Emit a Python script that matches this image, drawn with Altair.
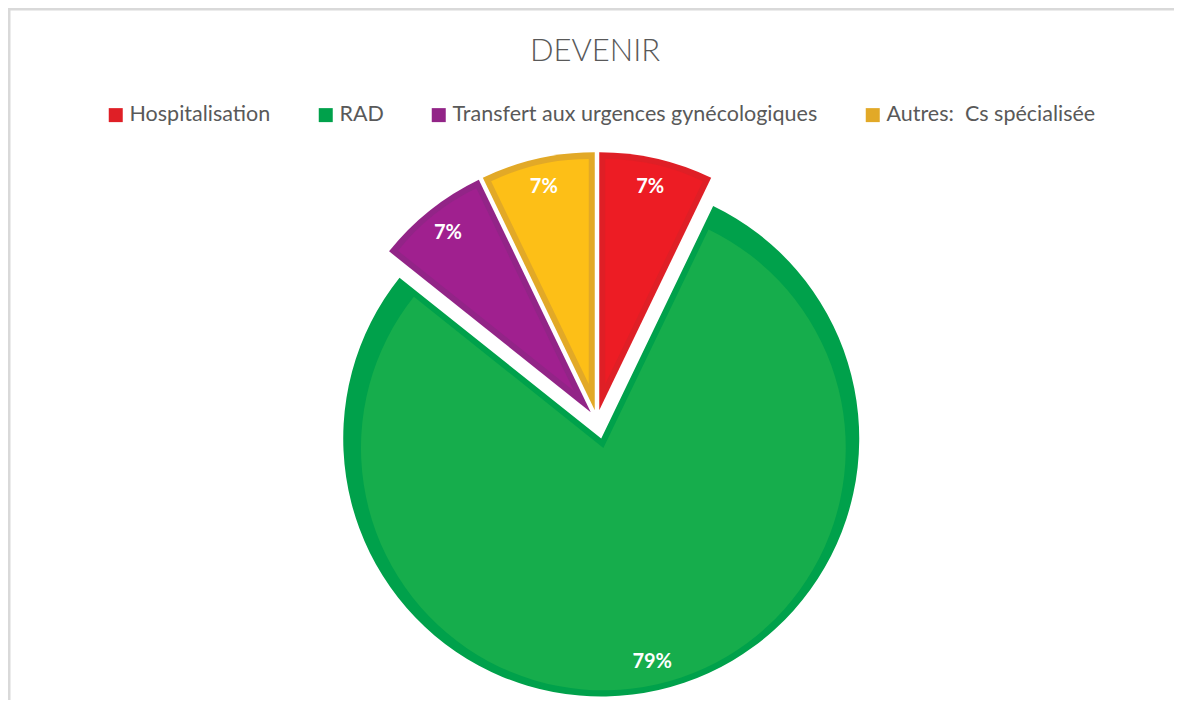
import altair as alt
import pandas as pd

categories = ["Hospitalisation", "RAD", "Transfert aux urgences gynécologiques", "Autres: \u00a0Cs spécialisée"]
counts = [1, 11, 1, 1]
fill_colors = ["#ED1C24", "#16AD4C", "#A0208F", "#FDBF17"]
border_colors = ["#DF1F26", "#00A14B", "#922487", "#E2A927"]
title_text = ["DEVENIR"]

df = pd.DataFrame({"cat": categories, "value": counts, "order": list(range(len(categories)))})
title_df = pd.DataFrame({"t": title_text})

R = 258      # outer radius
B = 6        # inner border width
CX, CY = 589, 412
LR = 229     # label radius

base = (
    alt.Chart(df)
    .transform_joinaggregate(total="sum(value)")
    .transform_stack(stack="value", groupby=[], as_=["v0", "v1"],
                     sort=[alt.SortField("order", order="ascending")])
    .transform_calculate(
        a0="datum.v0 / datum.total * 2 * PI",
        a1="datum.v1 / datum.total * 2 * PI",
    )
    .transform_calculate(
        mid="(datum.a0 + datum.a1) / 2",
        half="(datum.a1 - datum.a0) / 2",
        d="datum.cat == 'RAD' ? 19 : 10",
    )
    .transform_calculate(
        px=f"{CX} + datum.d * sin(datum.mid)",
        py=f"{CY} - datum.d * cos(datum.mid)",
        inset=f"{B} / sin(datum.half)",
    )
    .transform_calculate(
        ix="datum.px + datum.inset * sin(datum.mid)",
        iy="datum.py - datum.inset * cos(datum.mid)",
        ir=f"{R} - {B} - datum.inset",
        lx=f"datum.px + {LR} * sin(datum.mid)",
        ly=f"datum.py - {LR} * cos(datum.mid)",
        pct="format(datum.value / datum.total, '.0%')",
    )
)

outer = base.mark_arc(radius=R).encode(
    x=alt.X("px:Q", scale=None, axis=None),
    y=alt.Y("py:Q", scale=None, axis=None),
    theta=alt.Theta("a0:Q", scale=None, stack=None),
    theta2="a1:Q",
    color=alt.Color(
        "cat:N",
        scale=alt.Scale(domain=categories, range=border_colors),
        legend=alt.Legend(
            orient="none", legendX=97, legendY=96, direction="horizontal",
            title=None, symbolType="square", symbolSize=196, symbolStrokeWidth=0,
            symbolOpacity=1, labelFont="Lato", labelFontSize=21.5, labelColor="#595959",
            labelLimit=600, columnPadding=44, labelOffset=3, padding=0,
        ),
    ),
)

inner = base.mark_arc().encode(
    x=alt.X("ix:Q", scale=None, axis=None),
    y=alt.Y("iy:Q", scale=None, axis=None),
    theta=alt.Theta("a0:Q", scale=None, stack=None),
    theta2="a1:Q",
    radius=alt.Radius("ir:Q", scale=None),
    color=alt.Color("cat:N", scale=alt.Scale(domain=categories, range=fill_colors), legend=None),
)

labels = base.mark_text(
    font="Lato", fontWeight="bold", fontSize=20, color="white",
    align="center", baseline="middle",
).encode(
    x=alt.X("lx:Q", scale=None, axis=None),
    y=alt.Y("ly:Q", scale=None, axis=None),
    text="pct:N",
)

title = alt.Chart(title_df).mark_text(
    font="Lato", fontSize=31, fontWeight=300, color="#595959",
    align="center", baseline="alphabetic",
).encode(text="t:N", x=alt.value(587), y=alt.value(53))

frame_top = alt.Chart(title_df).mark_rule(color="#D9D9D9", strokeWidth=3).encode(
    x=alt.value(0), x2=alt.value(1166), y=alt.value(1)
)
frame_left = alt.Chart(title_df).mark_rule(color="#D9D9D9", strokeWidth=3).encode(
    x=alt.value(1), y=alt.value(0), y2=alt.value(692)
)

chart = (
    alt.layer(outer, inner, labels, title, frame_top, frame_left)
    .resolve_scale(color="independent")
    .properties(width=1166, height=692, padding=0, autosize="none", background="white")
    .configure_view(strokeWidth=0)
)

chart.save("out.html", embed_options={"renderer": "svg", "actions": False})
